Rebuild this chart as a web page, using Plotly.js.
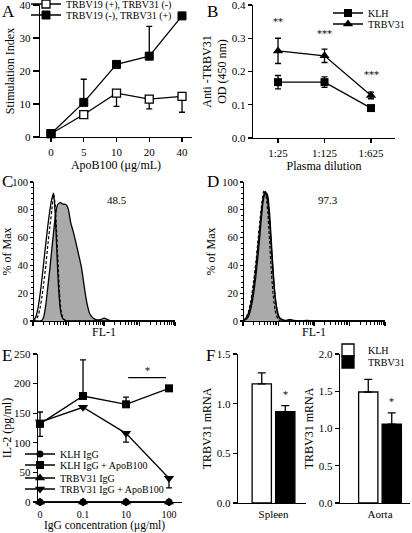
<!DOCTYPE html>
<html><head><meta charset="utf-8">
<script src="https://cdn.plot.ly/plotly-3.0.1.min.js"></script>
<style>html,body{margin:0;padding:0;background:#fff}#chart{width:412px;height:533px}</style>
</head><body><div id="chart"></div>
<script>
// ---------- Panel A ----------
const aDoses = ['0','5','10','20','40'];
const aV19pos = [1, 6.8, 13.3, 11.5, 12.3];
const aV19posErrUp = [0, 0, 0, 0, 0];
const aV19posErrDown = [0, 0.8, 4, 3, 4.8];
const aV31pos = [1, 10.5, 22, 24.5, 36.7];
const aV31posErrUp = [0, 7, 0, 9, 0];
const aV31posErrDown = [0, 0, 0, 0, 0];
const aNames = ['TRBV19 (+), TRBV31 (-)', 'TRBV19 (-), TRBV31 (+)'];
// ---------- Panel B ----------
const bDilutions = ['1:25','1:125','1:625'];
const bKLH = [0.168, 0.168, 0.09];
const bKLHErr = [0.02, 0.016, 0.005];
const bTRBV31 = [0.262, 0.247, 0.128];
const bTRBV31Err = [0.038, 0.02, 0.01];
const bStars = ['**','***','***'];
const bStarY = [0.35, 0.315, 0.19];
// ---------- Panels C / D (flow histograms, FL-1 as decades 0-4) ----------
const fl1Decade = [0,0.079,0.146,0.204,0.255,0.301,0.362,0.415,0.477,0.531,0.58,0.623,0.663,0.699,0.748,0.792,0.845,0.903,0.954,1,1.061,1.114,1.176,1.23,1.301,1.362,1.415,1.477,1.544,1.602,1.699,1.778,1.903,2,2.176,2.301,2.477,2.699,3,3.301,3.699,4];
const cStained = [0,0,0,0,0.5,3,12,24,38,52,64,74,81,84,85,85,84,84,83,80,71,66,60,54,46,39,30,19,10,5,2,1,1,2,0.3,0.3,0,0.3,0,0,0,0];
const cIsotype = [0,1,4,10,18,27,40,54,68,80,91,84,66,45,20,7,2,0.5,0,0,0,0,0,0,0,0,0,0,0,0,0,0,0,0,0,0,0,0,0,0,0,0];
const cControl = [0,3,10,20,31,42,56,68,80,88,92,78,56,34,14,5,1.5,0.5,0,0,0,0,0,0,0,0,0,0,0,0,0,0,0,0,0,0,0,0,0,0,0,0];
const dStained = [0,1,3,7,13,20,32,45,62,78,88,91,92,90,78,60,38,18,8,3,1.5,1,0.5,0.5,1,1,0.5,0.3,0,0,0,0.5,0.3,0,0,0,0,0,0,0,0,0];
const dIsotype = [0,2,6,12,20,29,42,56,72,85,93,94,88,78,58,38,20,8,3,1,0,0,0,0,0,0,0,0,0,0,0,0,0,0,0,0,0,0,0,0,0,0];
const dControl = [0,2,5,10,17,25,38,52,68,82,90,93,91,85,72,55,35,18,9,4,1.5,0.5,0,0,0,0,0,0,0,0,0,0,0,0,0,0,0,0,0,0,0,0];
const histTicks = [0, 20, 40, 60, 80, 100];
const histMinorTicks = [4,8,12,16,24,28,32,36,44,48,52,56,64,68,72,76,84,88,92,96];
const flMajorTicks = [0, 1, 2, 3, 4];
const flMinorTicks = [0.301,0.477,0.602,0.699,0.778,0.845,0.903,0.954,1.301,1.477,1.602,1.699,1.778,1.845,1.903,1.954,2.301,2.477,2.602,2.699,2.778,2.845,2.903,2.954,3.301,3.477,3.602,3.699,3.778,3.845,3.903,3.954];
const cPercent = '48.5';
const dPercent = '97.3';
// ---------- Panel E ----------
const eConc = ['0','0.1','10','100'];
const eKLH = [0, 0, 0, 0];
const eKLHApo = [132, 179, 165, 192];
const eKLHApoErrUp = [20, 61, 12, 0];
const eTRBV = [0, 0, 0, 0];
const eTRBVApo = [135, 160, 116, 40];
const eTRBVApoErrDown = [24, 0, 15, 16];
const eZero = [0, 0, 0, 0];
const eNames = ['KLH IgG', 'KLH IgG + ApoB100', 'TRBV31 IgG', 'TRBV31 IgG + ApoB100'];
// ---------- Panel F ----------
const fTissues = ['Spleen', 'Aorta'];
const fKLH = [1.2, 1.49];
const fKLHErr = [0.11, 0.17];
const fTRBV31 = [0.92, 1.06];
const fTRBV31Err = [0.06, 0.15];
const fStarY = [1.09, 1.36];

const W = 412, H = 533;
const FONT = 'Liberation Serif, "Times New Roman", serif';
const BLACK = '#000';
const px = v => v / W;
const py = v => 1 - v / H;

function axisBase(extra) {
  return Object.assign({
    showline: true, linewidth: 1.3, linecolor: BLACK, mirror: false,
    ticks: 'outside', ticklen: 4, tickwidth: 1.3, tickcolor: BLACK,
    showgrid: false, zeroline: false, automargin: false, fixedrange: true,
    ticklabeloverflow: 'allow', layer: 'above traces',
    tickfont: {family: FONT, size: 11, color: BLACK}
  }, extra);
}
function ttl(text, standoff) {
  return {text: text, font: {family: FONT, size: 12, color: BLACK}, standoff: standoff};
}
function leg(xp, yp, size) {
  return {x: px(xp), y: py(yp), xanchor: 'left', yanchor: 'middle', bgcolor: 'rgba(0,0,0,0)',
    borderwidth: 0, itemwidth: 30, tracegroupgap: 0,
    font: {family: FONT, size: size || 10, color: BLACK}};
}
function err(up, down) {
  return {type: 'data', symmetric: false, array: up, arrayminus: down, color: BLACK, thickness: 1.3, width: 3};
}

const traces = [];
// Panel A
traces.push({x: aDoses, y: aV19pos, xaxis: 'x', yaxis: 'y', type: 'scatter', mode: 'lines+markers',
  name: aNames[0], legend: 'legend', line: {color: BLACK, width: 1.3},
  marker: {symbol: 'square', size: 8, color: '#fff', line: {color: BLACK, width: 1.3}},
  error_y: err(aV19posErrUp, aV19posErrDown), cliponaxis: false});
traces.push({x: aDoses, y: aV31pos, xaxis: 'x', yaxis: 'y', type: 'scatter', mode: 'lines+markers',
  name: aNames[1], legend: 'legend2', line: {color: BLACK, width: 1.3},
  marker: {symbol: 'square', size: 8, color: BLACK, line: {color: BLACK, width: 1}},
  error_y: err(aV31posErrUp, aV31posErrDown), cliponaxis: false});
// Panel B
traces.push({x: bDilutions, y: bKLH, xaxis: 'x2', yaxis: 'y2', type: 'scatter', mode: 'lines+markers',
  name: 'KLH', legend: 'legend3', line: {color: BLACK, width: 1.3},
  marker: {symbol: 'square', size: 8, color: BLACK},
  error_y: {type: 'data', array: bKLHErr, color: BLACK, thickness: 1.3, width: 3}, cliponaxis: false});
traces.push({x: bDilutions, y: bTRBV31, xaxis: 'x2', yaxis: 'y2', type: 'scatter', mode: 'lines+markers',
  name: 'TRBV31', legend: 'legend4', line: {color: BLACK, width: 1.3},
  marker: {symbol: 'triangle-up', size: 9, color: BLACK},
  error_y: {type: 'data', array: bTRBV31Err, color: BLACK, thickness: 1.3, width: 3}, cliponaxis: false});
// Panels C, D
[['x3','y3',cStained,cControl,cIsotype],['x4','y4',dStained,dControl,dIsotype]].forEach(function(p) {
  traces.push({x: fl1Decade, y: p[2], xaxis: p[0], yaxis: p[1], type: 'scatter', mode: 'lines', showlegend: false,
    fill: 'tozeroy', fillcolor: '#aaaaaa', cliponaxis: false, line: {color: BLACK, width: 1.3, shape: 'spline', smoothing: 0.5}});
  traces.push({x: fl1Decade, y: p[3], xaxis: p[0], yaxis: p[1], type: 'scatter', mode: 'lines', showlegend: false,
    cliponaxis: false, line: {color: BLACK, width: 1.3, shape: 'spline', smoothing: 0.5}});
  traces.push({x: fl1Decade, y: p[4], xaxis: p[0], yaxis: p[1], type: 'scatter', mode: 'lines', showlegend: false,
    cliponaxis: false, line: {color: BLACK, width: 1.2, dash: '3px,2px', shape: 'spline', smoothing: 0.5}});
});
traces.push({x: [], y: [], xaxis: 'x8', yaxis: 'y8', type: 'scatter', mode: 'lines', showlegend: false});
traces.push({x: [], y: [], xaxis: 'x9', yaxis: 'y9', type: 'scatter', mode: 'lines', showlegend: false});
// Panel E
const eSeries = [
  [eKLH, 'circle', 7, eZero, eZero, 'legend5'],
  [eKLHApo, 'square', 8, eKLHApoErrUp, eZero, 'legend6'],
  [eTRBV, 'triangle-up', 9, eZero, eZero, 'legend7'],
  [eTRBVApo, 'triangle-down', 9, eZero, eTRBVApoErrDown, 'legend8']
];
eSeries.forEach(function(s, i) {
  traces.push({x: eConc, y: s[0], xaxis: 'x5', yaxis: 'y5', type: 'scatter', mode: 'lines+markers',
    name: eNames[i], legend: s[5], line: {color: BLACK, width: 1.3},
    marker: {symbol: s[1], size: s[2], color: BLACK},
    error_y: err(s[3], s[4]), cliponaxis: false});
});
// Panel F
[['x6','y6',0],['x7','y7',1]].forEach(function(p) {
  const i = p[2];
  traces.push({x: [fTissues[i]], y: [fKLH[i]], xaxis: p[0], yaxis: p[1], type: 'bar', name: 'KLH',
    legend: 'legend9', showlegend: i === 0,
    marker: {color: '#fff', line: {color: BLACK, width: 1.3}},
    error_y: {type: 'data', symmetric: false, array: [fKLHErr[i]], arrayminus: [0], color: BLACK, thickness: 1.3, width: 4}});
  traces.push({x: [fTissues[i]], y: [fTRBV31[i]], xaxis: p[0], yaxis: p[1], type: 'bar', name: 'TRBV31',
    legend: 'legend10', showlegend: i === 0,
    marker: {color: BLACK, line: {color: BLACK, width: 1.3}},
    error_y: {type: 'data', symmetric: false, array: [fTRBV31Err[i]], arrayminus: [0], color: BLACK, thickness: 1.3, width: 4}});
});

const annotations = [];
function letter(t, x, y) {
  annotations.push({text: t, xref: 'paper', yref: 'paper', x: px(x), y: py(y), xanchor: 'left', yanchor: 'middle',
    showarrow: false, font: {family: FONT, size: 17, color: BLACK}});
}
letter('A', 0, 11); letter('B', 205, 11); letter('C', 0, 181); letter('D', 205, 181); letter('E', 0, 355); letter('F', 204, 355);
function star(t, xref, yref, x, y) {
  annotations.push({text: t, xref: xref, yref: yref, x: x, y: y, showarrow: false, xanchor: 'center', yanchor: 'middle',
    font: {family: 'DejaVu Serif', size: 10, color: '#000000'}});
}
star('*', 'x', 'y', aDoses[4], 38.5);
bDilutions.forEach(function(d, i) { star(bStars[i], 'x2', 'y2', d, bStarY[i]); });
star('*', 'x5', 'y5', 2.49, 222);
star('*', 'x6', 'y6', 0.175, fStarY[0]);
star('*', 'x7', 'y7', 0.175, fStarY[1]);
annotations.push({text: cPercent, xref: 'x3', yref: 'y3', x: 2.37, y: 87, showarrow: false, font: {family: FONT, size: 11, color: BLACK}});
annotations.push({text: dPercent, xref: 'x4', yref: 'y4', x: 2.39, y: 87, showarrow: false, font: {family: FONT, size: 11, color: BLACK}});
annotations.push({text: 'IgG concentration (\u03bcg/ml)', xref: 'x5', yref: 'paper', x: 1.5, y: 0, yanchor: 'bottom',
  borderpad: 0, showarrow: false, font: {family: FONT, size: 11.5, color: BLACK}});

function flX(dom, anchor) {
  return axisBase({domain: dom, anchor: anchor, type: 'linear', range: [0, 4], tickvals: flMajorTicks,
    ticktext: ['', '', '', '', ''], title: ttl('FL-1', 0)});
}
function flXMinor(over, anchor) {
  return {overlaying: over, anchor: anchor, type: 'linear', range: [0, 4], tickvals: flMinorTicks,
    ticks: 'outside', ticklen: 2.5, tickwidth: 1, tickcolor: BLACK, showticklabels: false,
    showline: false, showgrid: false, zeroline: false, fixedrange: true, automargin: false};
}
function histY(dom, xpos) {
  return axisBase({domain: dom, anchor: 'free', position: px(xpos), type: 'linear', range: [0, 100], tickvals: histTicks, ticklen: 3,
    tickfont: {family: FONT, size: 10.5, color: BLACK}, title: ttl('% of Max', 2)});
}
function histYMinor(over, xpos) {
  return {overlaying: over, anchor: 'free', position: px(xpos), type: 'linear', range: [0, 100], tickvals: histMinorTicks,
    ticks: 'outside', ticklen: 2, tickwidth: 1, tickcolor: BLACK, showticklabels: false,
    showline: false, showgrid: false, zeroline: false, fixedrange: true, automargin: false};
}

const layout = {
  width: W, height: H, autosize: false,
  margin: {l: 0, r: 0, t: 0, b: 0, pad: 0, autoexpand: false},
  paper_bgcolor: '#fff', plot_bgcolor: 'rgba(0,0,0,0)',
  font: {family: FONT, size: 11, color: BLACK},
  barmode: 'group', bargap: 0.3, bargroupgap: 0.18,
  // A
  xaxis: axisBase({domain: [px(40), px(192)], anchor: 'y', type: 'category', range: [-0.336, 4.305],
    title: ttl('ApoB100 (\u03bcg/mL)', 2)}),
  yaxis: axisBase({domain: [py(137), py(5)], anchor: 'x', range: [0, 40], tickvals: [0,10,20,30,40], ticklen: 6,
    title: ttl('Stimulation Index', 2)}),
  // B
  xaxis2: axisBase({domain: [px(253), px(395)], anchor: 'y2', type: 'category', range: [-0.538, 2.516],
    title: ttl('Plasma dilution', 0)}),
  yaxis2: axisBase({domain: [py(138), py(5)], anchor: 'x2', range: [0, 0.4], tickvals: [0,0.1,0.2,0.3,0.4], tickformat: '.1f',
    title: ttl('Anti -TRBV31<br>OD (450 nm)', 2)}),
  // C
  xaxis3: flX([px(33), px(175)], 'y3'),
  yaxis3: histY([py(321), py(182)], 33),
  xaxis8: flXMinor('x3', 'y8'),
  yaxis8: histYMinor('y3', 33),
  // D
  xaxis4: flX([px(243), px(385)], 'y4'),
  yaxis4: histY([py(321), py(182)], 243),
  xaxis9: flXMinor('x4', 'y9'),
  yaxis9: histYMinor('y4', 243),
  // E
  xaxis5: axisBase({domain: [px(38), px(182)], anchor: 'y5', type: 'category', range: [-0.047, 3.302],
    ticklen: 3, tickfont: {family: FONT, size: 10, color: BLACK}}),
  yaxis5: axisBase({domain: [py(502), py(354)], anchor: 'x5', range: [0, 250], tickvals: [0,50,100,150,200,250],
    title: ttl('IL-2 (pg/ml)', 2)}),
  // F
  xaxis6: axisBase({domain: [px(238), px(306)], anchor: 'y6', type: 'category', range: [-0.529, 0.484], ticks: ''}),
  yaxis6: axisBase({domain: [py(503), py(354)], anchor: 'x6', range: [0, 1.5], tickvals: [0,0.5,1,1.5], tickformat: '.1f',
    title: ttl('TRBV31 mRNA', 2)}),
  xaxis7: axisBase({domain: [px(340), px(410)], anchor: 'y7', type: 'category', range: [-0.596, 0.447], ticks: ''}),
  yaxis7: axisBase({domain: [py(503), py(354)], anchor: 'x7', range: [0, 2], tickvals: [0,0.5,1,1.5,2], tickformat: '.1f',
    title: ttl('TRBV31 mRNA', 2)}),
  legend: leg(26, 4), legend2: leg(26, 15),
  legend3: leg(328, 13), legend4: leg(328, 24),
  legend5: leg(20, 454), legend6: leg(20, 465), legend7: leg(20, 478), legend8: leg(20, 489),
  legend9: leg(328, 350), legend10: leg(328, 362),
  shapes: [{type: 'line', xref: 'x5', yref: 'y5', x0: 2.05, x1: 2.93, y0: 210, y1: 210, line: {color: BLACK, width: 1.3}}],
  annotations: annotations
};

Plotly.newPlot('chart', traces, layout, {staticPlot: true, displayModeBar: false});
</script>
</body></html>
